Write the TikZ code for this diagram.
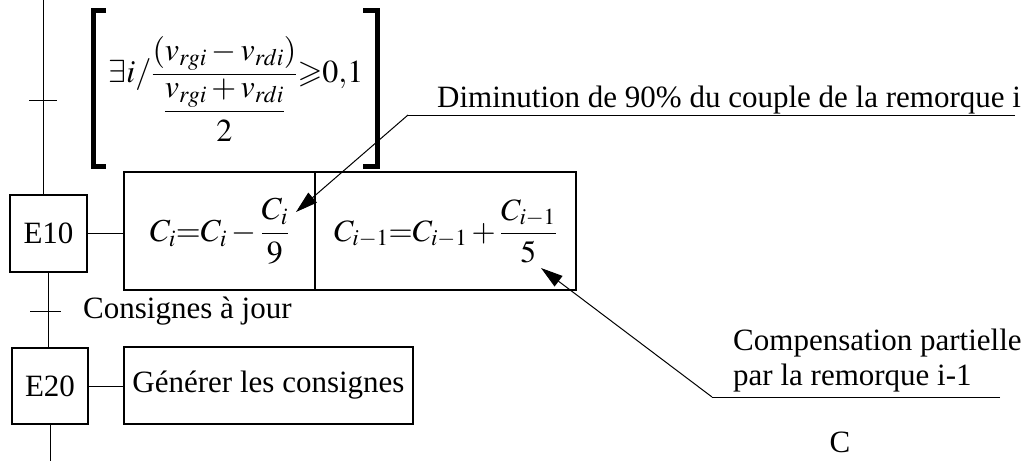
\documentclass[tikz,border=0pt]{standalone}
\usepackage{amsmath}
\usepackage{mathptmx}
\usepackage{amssymb}
\usepackage{fontspec}
\setmainfont{Liberation Serif}
\usetikzlibrary{arrows.meta}
\tikzset{
  txt/.style={font=\fontsize{31}{36}\selectfont, inner sep=0pt},
  boxed/.style={draw, line width=1.3pt, inner sep=0pt, font=\fontsize{31}{36}\selectfont},
  wire/.style={line width=1pt},
  bracketline/.style={line width=5pt, line cap=butt, line join=miter},
  leader/.style={line width=1pt, -{Triangle[length=22pt,width=13pt]}}
}
\begin{document}
\begin{tikzpicture}[x=1pt,y=-1pt]
\useasboundingbox (0,0) rectangle (1027,461);
% steps
\node[boxed, minimum width=77, minimum height=77] (e10) at (48.5,233.5) {E10};
\node[boxed, minimum width=76, minimum height=76] (e20) at (50,386) {E20};
% actions
\node[boxed, minimum width=191, minimum height=118, font=\fontsize{32}{37}\selectfont] (a1) at (219.5,231)
  {$C_i{=}C_i-\dfrac{C_i}{9}$};
\node[boxed, minimum width=261, minimum height=118] (a2) at (445.5,231)
  {$C_{i-1}{=}C_{i-1}+\dfrac{C_{i-1}}{5}$};
\node[boxed, minimum width=289, minimum height=77] (gen) at (268.5,385.5)
  {G\'en\'erer les consignes};
% condition
\node[txt, font=\fontsize{32}{38}\selectfont] (cond) at (236,89)
  {$\exists i/\dfrac{(v_{rgi}-v_{rdi})}{\dfrac{v_{rgi}+v_{rdi}}{2}}{\geqslant}0{,}1$};
\draw[bracketline] (106,10) -- (93,10) -- (93,166) -- (106,166);
\draw[bracketline] (363,10) -- (377,10) -- (377,166) -- (363,166);
% sequence line
\coordinate (top) at (43,0);
\coordinate (bot) at (50,461);
\draw[wire] (top) -- (top |- e10.north);
\draw[wire] (29,100) -- (57,100);
\draw[wire] (e10.south) -- (e10.south |- e20.north);
\draw[wire] (30,311) -- (61,311);
\draw[wire] (e20.south) -- (bot);
\node[txt, anchor=base west] (cj) at (83,318) {Consignes \`a jour};
% links
\draw[wire] (e10.east) -- (e10.east -| a1.west);
\draw[wire] (e20.east) -- (e20.east -| gen.west);
% annotations
\node[txt, anchor=base west] (dim) at (437,107) {Diminution de 90\% du couple de la remorque i};
\coordinate (d2) at (1015,115);
\coordinate (d1) at (408,115);
\coordinate (dt) at (296,212);
\draw[wire] (d2) -- (d1);
\draw[leader] (d1) -- (dt);
\node[txt, anchor=base west] (comp1) at (733,350) {Compensation partielle};
\node[txt, anchor=base west] (comp2) at (733,385) {par la remorque i-1};
\coordinate (c2) at (1000,397);
\coordinate (c1) at (712,397);
\coordinate (ct) at (541,268);
\draw[wire] (c2) -- (c1);
\draw[leader] (c1) -- (ct);
\node[txt, anchor=base] (cc) at (840,452) {C};
\end{tikzpicture}
\end{document}
